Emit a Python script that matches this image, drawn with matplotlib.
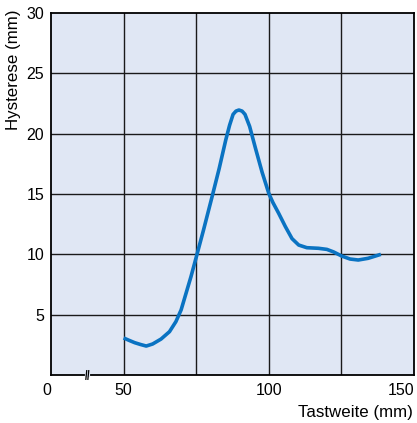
import numpy as np
import matplotlib
matplotlib.use('Agg')
import matplotlib.pyplot as plt
import matplotlib.transforms as mtransforms

# Hysterese curve, values
tastweite = [50, 51.8, 53.8, 55.8, 57.8, 60.0, 62.9, 65.8, 68.0, 69.8, 71.5,
             73.2, 75.0, 77.5, 80.6, 82.9, 85.2, 86.5, 87.7, 88.7, 89.7, 90.8,
             91.8, 93.4, 95.4, 97.7, 100.0, 101.4, 103.4, 105.7, 108.0, 110.3,
             113.1, 117.1, 120.0, 122.3, 125.1, 128.0, 130.8, 134.2, 138.6]
hysterese = [3.07, 2.88, 2.68, 2.53, 2.40, 2.57, 2.98, 3.59, 4.42, 5.39, 6.77,
             8.15, 9.75, 12.0, 14.9, 17.1, 19.5, 20.7, 21.6, 21.87, 21.96, 21.87,
             21.6, 20.6, 18.8, 16.8, 15.05, 14.3, 13.4, 12.3, 11.3, 10.77,
             10.55, 10.5, 10.41, 10.2, 9.86, 9.61, 9.53, 9.67, 10.0]

x_ticks = [25, 50, 100, 150]
x_ticklabels = ['0', '50', '100', '150']
y_ticks = [5, 10, 15, 20, 25, 30]

plt.rcParams['font.family'] = ['Liberation Sans', 'DejaVu Sans']

fig = plt.figure(figsize=(4.17, 4.23), dpi=100)
ax = fig.add_axes([51 / 417, 48 / 423, 363 / 417, 362 / 423])
ax.set_facecolor('#e0e7f4')

ax.set_xlim(25, 150)
ax.set_ylim(0, 30)

# grid
for gx in [50, 75, 100, 125]:
    ax.axvline(gx, color='#1a1a1a', lw=1.0, zorder=1)
for gy in [5, 10, 15, 20, 25]:
    ax.axhline(gy, color='#1a1a1a', lw=1.0, zorder=1)

ax.plot(tastweite, hysterese, color='#0a73c2', lw=2.6, solid_capstyle='butt',
        solid_joinstyle='round', zorder=3)

ax.set_xticks(x_ticks)
ax.set_xticklabels(x_ticklabels)
ax.set_yticks(y_ticks)
ax.tick_params(length=0, labelsize=11.5, pad=6)
ax.tick_params(axis='y', pad=5)
labels = ax.get_xticklabels()
labels[0].set_horizontalalignment('right')
labels[-1].set_horizontalalignment('right')

for sp in ax.spines.values():
    sp.set_color('black')
    sp.set_linewidth(1.3)

# axis break mark
trans = mtransforms.blended_transform_factory(ax.transData, ax.transAxes)
ax.plot([37.3, 37.7], [0, 0], color='#e0e7f4', lw=3, transform=trans,
        clip_on=False, zorder=5)
for dx in (-0.35, 0.35):
    ax.plot([37.5 + dx - 0.15, 37.5 + dx + 0.15], [-0.012, 0.012],
            color='black', lw=0.9, transform=trans, clip_on=False, zorder=6)

fig.text(14 / 417, 1 - 70 / 423, 'Hysterese (mm)', rotation=90,
         ha='center', va='center', fontsize=12.2)
fig.text(413 / 417, 1 - 412 / 423, 'Tastweite (mm)', ha='right', va='center',
         fontsize=12.2)

fig.savefig('out.png', dpi=100)
